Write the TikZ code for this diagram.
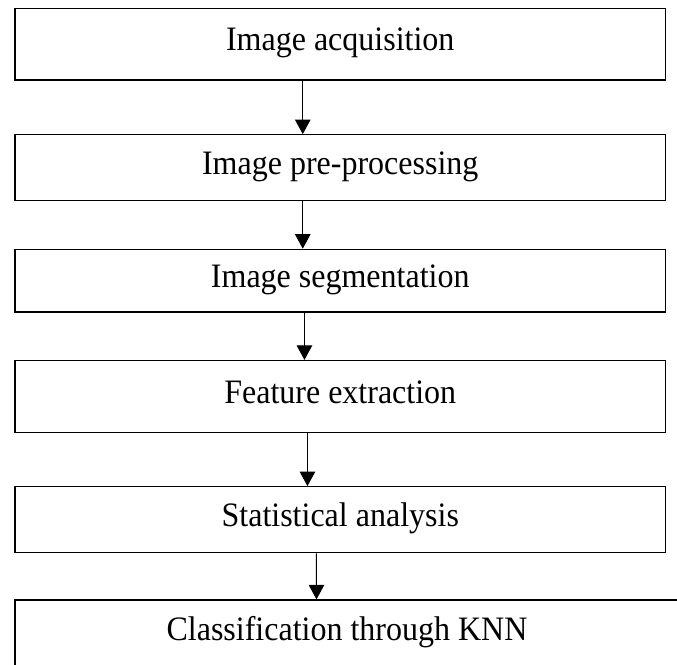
\documentclass[tikz,border=0pt]{standalone}
\usepackage{fontspec}
\usepackage{graphicx}
\setmainfont{Liberation Serif}
\usetikzlibrary{arrows.meta}
\newcommand{\tallertext}[1]{\scalebox{1}[1.07]{#1}}
\begin{document}
\begin{tikzpicture}[x=1pt,y=-1pt,
  stepbox/.style={draw=black,line width=1.2pt,inner sep=0pt,
    text height=22pt,text depth=9pt,
    font=\fontsize{32}{38}\selectfont},
  arr/.style={line width=1pt,-{Triangle[width=15.5pt,length=14.5pt]}}]
\useasboundingbox (0,0) rectangle (677,664);
\node[stepbox,minimum width=650.5pt,minimum height=71.3pt] (b1) at (340.25,44.35) {\tallertext{Image acquisition}};
\node[stepbox,minimum width=650.5pt,minimum height=66pt] (b2) at (340.25,167.7) {\tallertext{Image pre-processing}};
\node[stepbox,minimum width=650.5pt,minimum height=62.7pt] (b3) at (340.25,280.65) {\tallertext{Image segmentation}};
\node[stepbox,minimum width=650.5pt,minimum height=72pt] (b4) at (340.25,396.5) {\tallertext{Feature extraction}};
\node[stepbox,minimum width=650.5pt,minimum height=66pt] (b5) at (340.25,519.7) {\tallertext{Statistical analysis}};
\node[stepbox,minimum width=664pt,minimum height=67pt] (b6) at (347,633.5) {\tallertext{Classification through KNN}};
\draw[arr] ([xshift=-37.5pt]b1.south) -- ([xshift=-37.5pt]b2.north);
\draw[arr] ([xshift=-37.5pt]b2.south) -- ([xshift=-37.5pt]b3.north);
\draw[arr] ([xshift=-35.8pt]b3.south) -- ([xshift=-35.8pt]b4.north);
\draw[arr] ([xshift=-32.8pt]b4.south) -- ([xshift=-32.8pt]b5.north);
\draw[arr] ([xshift=-23.8pt]b5.south) -- ([xshift=-30.5pt]b6.north);
\end{tikzpicture}
\end{document}
